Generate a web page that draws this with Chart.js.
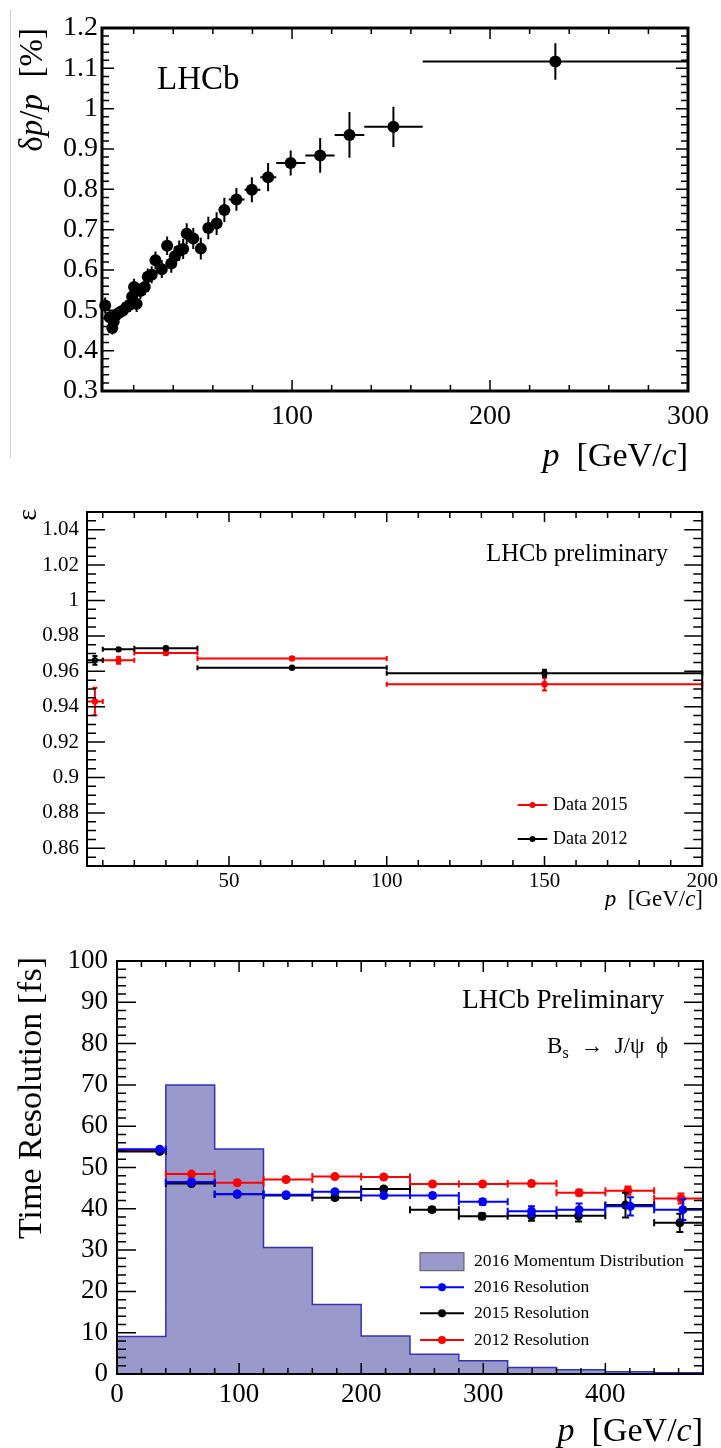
<!DOCTYPE html>
<html lang="en">
<head>
    <meta charset="UTF-8">
    <meta name="viewport" content="width=device-width, initial-scale=1.0">
    <title>LHCb momentum resolution, efficiency and time resolution</title>
    <script src="https://cdn.jsdelivr.net/npm/chart.js"></script>
    <style>
        body { margin: 0; background: #fff; }
        .page { position: relative; width: 721px; height: 1448px; overflow: hidden; }
        .panel { position: absolute; left: 0; }
        .edge { position: absolute; left: 10px; top: 10px; height: 448px; border-left: 1px solid #d0d0d0; }
    </style>
</head>
<body>
<div class="page">
    <div class="edge"></div>
    <canvas class="panel" id="resChart" width="721" height="480" style="top:0"></canvas>
    <canvas class="panel" id="effChart" width="721" height="420" style="top:490px"></canvas>
    <canvas class="panel" id="timeChart" width="721" height="543" style="top:905px"></canvas>
</div>

<script>
    const SERIF = '"Liberation Serif", "Times New Roman", serif';

    // ---- momentum resolution dp/p vs p ----
    const resP   = [5.6, 7.9, 9.2, 9.9, 11.0, 12.6, 14.4, 16.4, 18.1, 19.2, 20.2, 21.5, 23.4, 25.6, 27.1, 29.1, 31.0, 34.2, 36.9, 39.0,
                    40.8, 43.0, 45.0, 46.8, 50.1, 53.9, 57.7, 61.9, 65.8, 71.9, 79.7, 87.9, 99.3, 114.2, 129.0, 151.2, 233.0];
    const resLo  = [4.8, 7.1, 8.4, 9.1, 10.2, 11.8, 13.6, 15.6, 17.3, 18.4, 19.4, 20.7, 22.0, 24.1, 25.6, 27.6, 29.5, 32.7, 35.4, 37.5,
                    39.3, 41.5, 43.5, 45.3, 48.6, 52.4, 56.2, 59.9, 63.8, 68.0, 76.0, 84.0, 92.0, 106.7, 121.5, 136.5, 166.0];
    const resHi  = [6.4, 8.7, 10.0, 10.7, 11.8, 13.4, 15.2, 17.2, 18.9, 20.0, 21.0, 22.3, 24.8, 27.1, 28.6, 30.6, 32.5, 35.7, 38.4, 40.5,
                    42.3, 44.5, 46.5, 48.3, 51.6, 55.4, 59.2, 63.9, 67.8, 76.0, 84.0, 92.0, 106.7, 121.5, 136.5, 166.0, 300.0];
    const resVal = [0.512, 0.483, 0.456, 0.472, 0.488, 0.494, 0.499, 0.508, 0.514, 0.534, 0.558, 0.516, 0.548, 0.558, 0.583, 0.588, 0.624, 0.602, 0.660, 0.616,
                    0.634, 0.648, 0.652, 0.690, 0.678, 0.653, 0.704, 0.715, 0.749, 0.775, 0.799, 0.830, 0.865, 0.884, 0.935, 0.955, 1.117];
    const resErr = [0.020, 0.018, 0.016, 0.016, 0.016, 0.016, 0.016, 0.017, 0.018, 0.020, 0.020, 0.020, 0.020, 0.020, 0.021, 0.021, 0.022, 0.022, 0.023, 0.023,
                    0.024, 0.025, 0.025, 0.026, 0.026, 0.027, 0.028, 0.028, 0.030, 0.028, 0.031, 0.035, 0.031, 0.043, 0.057, 0.050, 0.045];
    const resXTicks  = [100, 200, 300];
    const resXLabels = ['100', '200', '300'];
    const resYTicks  = [0.3, 0.4, 0.5, 0.6, 0.7, 0.8, 0.9, 1.0, 1.1, 1.2];
    const resYLabels = ['0.3', '0.4', '0.5', '0.6', '0.7', '0.8', '0.9', '1', '1.1', '1.2'];

    // ---- efficiency vs p ----
    const effBinLo   = [5, 10, 20, 40, 100];
    const effBinHi   = [10, 20, 40, 100, 200];
    const effP       = [7.5, 15, 30, 70, 150];
    const eff2015    = [0.9429, 0.9662, 0.9703, 0.9673, 0.9527];
    const eff2015Err = [0.0078, 0.0020, 0.0010, 0.0008, 0.0036];
    const eff2012    = [0.9662, 0.9724, 0.9730, 0.9620, 0.9589];
    const eff2012Err = [0.0025, 0.0008, 0.0008, 0.0006, 0.0020];
    const effXTicks  = [50, 100, 150, 200];
    const effXLabels = ['50', '100', '150', '200'];
    const effYTicks  = [0.86, 0.88, 0.90, 0.92, 0.94, 0.96, 0.98, 1.00, 1.02, 1.04];
    const effYLabels = ['0.86', '0.88', '0.9', '0.92', '0.94', '0.96', '0.98', '1', '1.02', '1.04'];

    // ---- decay time resolution vs p ----
    const momEdges  = [0, 40, 80, 120, 160, 200, 240, 280, 320, 360, 400, 440, 480];
    const momDist   = [9.1, 70.0, 54.5, 30.6, 16.8, 9.2, 4.8, 3.2, 1.6, 1.0, 0.55, 0.3];
    const tBinLo    = [0, 40, 80, 120, 160, 200, 240, 280, 320, 360, 400, 440];
    const tBinHi    = [40, 80, 120, 160, 200, 240, 280, 320, 360, 400, 440, 480];
    const t2016P    = [35, 61, 98.5, 138.5, 178.5, 218.5, 258.5, 299.5, 339.5, 378.5, 420.5, 463.5];
    const t2016     = [54.4, 46.5, 43.6, 43.4, 44.1, 43.2, 43.2, 41.7, 39.4, 39.8, 40.6, 39.8];
    const t2016Err  = [0.5, 0.4, 0.4, 0.4, 0.5, 0.5, 0.6, 0.7, 1.2, 1.5, 2.2, 2.5];
    const t2015P    = [35, 61, 98.5, 138.5, 178.5, 218.5, 258, 299, 339.5, 378, 416.5, 461];
    const t2015     = [53.9, 46.1, 43.5, 43.2, 42.7, 44.8, 39.8, 38.2, 38.3, 38.3, 40.9, 36.6];
    const t2015Err  = [0.4, 0.4, 0.4, 0.4, 0.5, 0.5, 0.6, 0.7, 1.2, 1.4, 3.0, 2.2];
    const t2012P    = [35, 61, 98.5, 138.5, 178.5, 218.5, 258.5, 299.5, 339.5, 378.5, 418.5, 462];
    const t2012     = [54.2, 48.4, 46.3, 47.1, 47.8, 47.7, 46.0, 46.0, 46.1, 43.9, 44.4, 42.5];
    const t2012Err  = [0.4, 0.4, 0.4, 0.4, 0.4, 0.4, 0.5, 0.5, 0.6, 0.7, 1.0, 1.2];
    const tXTicks   = [0, 100, 200, 300, 400];
    const tXLabels  = ['0', '100', '200', '300', '400'];
    const tYTicks   = [0, 10, 20, 30, 40, 50, 60, 70, 80, 90, 100];
    const tYLabels  = ['0', '10', '20', '30', '40', '50', '60', '70', '80', '90', '100'];

    function pointsFrom(xs, ys, errs, lo, hi) {
        return xs.map((x, i) => ({
            x: x, y: ys[i],
            yMin: ys[i] - errs[i], yMax: ys[i] + errs[i],
            xMin: lo[i], xMax: hi[i]
        }));
    }

    // text made of runs: [text] plain, [text, 'i'] italic, [text, 'sub'] subscript
    function drawRuns(ctx, runs, x, y, size, align) {
        const fontOf = r => (r[1] === 'i' ? 'italic ' : '') + (r[1] === 'sub' ? size * 0.7 : size) + 'px ' + SERIF;
        let total = 0;
        runs.forEach(r => { ctx.font = fontOf(r); total += ctx.measureText(r[0]).width; });
        let cx = align === 'right' ? x - total : (align === 'center' ? x - total / 2 : x);
        ctx.textAlign = 'left';
        ctx.textBaseline = 'middle';
        runs.forEach(r => {
            ctx.font = fontOf(r);
            ctx.fillText(r[0], cx, y + (r[1] === 'sub' ? size * 0.3 : 0));
            cx += ctx.measureText(r[0]).width;
        });
    }

    function eachTick(scale, t, fn) {
        const first = Math.ceil(scale.min / t.step - 1e-6);
        const last = Math.floor(scale.max / t.step + 1e-6);
        for (let n = first; n <= last; n++) fn(scale.getPixelForValue(n * t.step), n % t.every === 0);
    }

    // ROOT style frame, ticks on all four sides pointing inwards
    const rootFrame = {
        id: 'rootFrame',
        afterDraw(chart, args, o) {
            const { ctx, chartArea: a, scales: { x, y } } = chart;
            ctx.save();
            ctx.strokeStyle = '#000';
            ctx.lineWidth = o.tickWidth;
            ctx.beginPath();
            eachTick(x, o.x, (px, major) => {
                const len = major ? o.x.major : o.x.minor;
                ctx.moveTo(px, a.bottom); ctx.lineTo(px, a.bottom - len);
                ctx.moveTo(px, a.top); ctx.lineTo(px, a.top + len);
            });
            eachTick(y, o.y, (py, major) => {
                const len = major ? o.y.major : o.y.minor;
                ctx.moveTo(a.left, py); ctx.lineTo(a.left + len, py);
                ctx.moveTo(a.right, py); ctx.lineTo(a.right - len, py);
            });
            ctx.stroke();
            ctx.lineWidth = o.frameWidth;
            ctx.strokeRect(a.left, a.top, a.right - a.left, a.bottom - a.top);
            ctx.restore();
        }
    };

    // horizontal bin-width bars and vertical error bars, drawn under each dataset's markers
    const errorBars = {
        id: 'errorBars',
        beforeDatasetDraw(chart, args) {
            const ds = chart.data.datasets[args.index];
            const eb = ds.errorBars;
            if (!eb) return;
            const { ctx, scales: { x, y } } = chart;
            ctx.save();
            ctx.strokeStyle = ds.backgroundColor;
            ctx.lineWidth = eb.width;
            ctx.beginPath();
            ds.data.forEach(d => {
                const px = x.getPixelForValue(d.x), py = y.getPixelForValue(d.y);
                const x0 = x.getPixelForValue(d.xMin), x1 = x.getPixelForValue(d.xMax);
                const y0 = y.getPixelForValue(d.yMin), y1 = y.getPixelForValue(d.yMax);
                ctx.moveTo(x0, py); ctx.lineTo(x1, py);
                ctx.moveTo(px, y0); ctx.lineTo(px, y1);
                if (eb.cap) {
                    ctx.moveTo(x0, py - eb.cap); ctx.lineTo(x0, py + eb.cap);
                    ctx.moveTo(x1, py - eb.cap); ctx.lineTo(x1, py + eb.cap);
                    ctx.moveTo(px - eb.cap, y0); ctx.lineTo(px + eb.cap, y0);
                    ctx.moveTo(px - eb.cap, y1); ctx.lineTo(px + eb.cap, y1);
                }
            });
            ctx.stroke();
            ctx.restore();
        }
    };

    // axis titles and labels on the pad
    const notes = {
        id: 'notes',
        afterDraw(chart, args, o) {
            const ctx = chart.ctx;
            (o.items || []).forEach(n => {
                ctx.save();
                ctx.fillStyle = '#000';
                ctx.translate(n.x, n.y);
                if (n.rotate) ctx.rotate(-Math.PI / 2);
                drawRuns(ctx, n.runs, 0, 0, n.size, n.align);
                ctx.restore();
            });
        }
    };

    // legend box: line + marker, or a filled swatch for the histogram
    const keyBox = {
        id: 'keyBox',
        afterDraw(chart, args, o) {
            if (!o.rows) return;
            const ctx = chart.ctx;
            o.rows.forEach(r => {
                const ds = chart.data.datasets[r.dataset];
                ctx.save();
                if (ds.type === 'line') {
                    ctx.fillStyle = ds.backgroundColor;
                    ctx.fillRect(o.x0, r.y - o.boxH / 2, o.x1 - o.x0, o.boxH);
                    ctx.strokeStyle = '#555';
                    ctx.lineWidth = 1;
                    ctx.strokeRect(o.x0, r.y - o.boxH / 2, o.x1 - o.x0, o.boxH);
                } else {
                    ctx.strokeStyle = ds.backgroundColor;
                    ctx.fillStyle = ds.backgroundColor;
                    ctx.lineWidth = 2;
                    ctx.beginPath();
                    ctx.moveTo(o.x0, r.y); ctx.lineTo(o.x1, r.y);
                    ctx.stroke();
                    ctx.beginPath();
                    ctx.arc((o.x0 + o.x1) / 2, r.y, o.dot, 0, Math.PI * 2);
                    ctx.fill();
                }
                ctx.fillStyle = '#000';
                drawRuns(ctx, [[ds.label]], o.textX, r.y, o.size, 'left');
                ctx.restore();
            });
        }
    };

    function makeChart(id, c) {
        const tickFont = { family: SERIF, size: c.tickSize };
        return new Chart(document.getElementById(id), {
            type: 'scatter',
            data: { datasets: c.datasets },
            options: {
                responsive: false,
                animation: false,
                events: [],
                layout: { padding: c.padding },
                scales: {
                    x: {
                        type: 'linear', min: c.xMin, max: c.xMax,
                        afterFit: s => { s.height = c.xHeight; },
                        afterBuildTicks: s => { s.ticks = c.xTicks.map(v => ({ value: v })); },
                        ticks: { callback: (v, i) => c.xLabels[i], font: tickFont, color: '#000', padding: c.xPad, maxRotation: 0, autoSkip: false },
                        grid: { display: false, drawTicks: false },
                        border: { display: false }
                    },
                    y: {
                        type: 'linear', min: c.yMin, max: c.yMax,
                        afterFit: s => { s.width = c.yWidth; },
                        afterBuildTicks: s => { s.ticks = c.yTicks.map(v => ({ value: v })); },
                        ticks: { callback: (v, i) => c.yLabels[i], font: tickFont, color: '#000', padding: c.yPad, autoSkip: false },
                        grid: { display: false, drawTicks: false },
                        border: { display: false }
                    }
                },
                plugins: {
                    legend: { display: false },
                    tooltip: { enabled: false },
                    rootFrame: c.frame,
                    notes: { items: c.notes },
                    keyBox: c.key || {}
                }
            },
            plugins: [errorBars, rootFrame, notes, keyBox]
        });
    }

    const xTitle = [['p', 'i'], ['  [GeV/'], ['c', 'i'], [']']];

    // top: momentum resolution
    makeChart('resChart', {
        padding: { left: 0, top: 28, right: 33, bottom: 0 },
        xMin: 4, xMax: 300, yMin: 0.3, yMax: 1.2,
        xHeight: 89, yWidth: 102, tickSize: 28, xPad: 9, yPad: 4,
        xTicks: resXTicks, xLabels: resXLabels, yTicks: resYTicks, yLabels: resYLabels,
        frame: { tickWidth: 1.5, frameWidth: 3,
                 x: { step: 20, every: 5, major: 11, minor: 6 },
                 y: { step: 0.02, every: 5, major: 12, minor: 7 } },
        notes: [
            { runs: [['δ'], ['p', 'i'], ['/'], ['p', 'i'], ['  [%]']], x: 33, y: 28, size: 33, align: 'right', rotate: true },
            { runs: xTitle, x: 688, y: 457, size: 34, align: 'right' },
            { runs: [['LHCb']], x: 157, y: 80, size: 33, align: 'left' }
        ],
        datasets: [{
            label: 'LHCb',
            data: pointsFrom(resP, resVal, resErr, resLo, resHi),
            backgroundColor: '#000', borderColor: '#000',
            pointRadius: 6, pointBorderWidth: 0, clip: false,
            errorBars: { width: 2, cap: 0 }
        }]
    });

    // middle: efficiency
    makeChart('effChart', {
        padding: { left: 0, top: 22, right: 18, bottom: 0 },
        xMin: 5, xMax: 200, yMin: 0.85, yMax: 1.05,
        xHeight: 44, yWidth: 87, tickSize: 21, xPad: 3, yPad: 8,
        xTicks: effXTicks, xLabels: effXLabels, yTicks: effYTicks, yLabels: effYLabels,
        frame: { tickWidth: 1.5, frameWidth: 2,
                 x: { step: 10, every: 5, major: 10, minor: 6 },
                 y: { step: 0.005, every: 4, major: 18, minor: 9 } },
        notes: [
            { runs: [['ε']], x: 29, y: 19, size: 28, align: 'right', rotate: true },
            { runs: [['LHCb preliminary']], x: 668, y: 65, size: 24.5, align: 'right' },
            { runs: xTitle, x: 703, y: 410, size: 23, align: 'right' }
        ],
        key: { x0: 517.7, x1: 547.3, textX: 553, size: 18, dot: 3,
               rows: [{ dataset: 1, y: 315 }, { dataset: 0, y: 349 }] },
        datasets: [{
            label: 'Data 2012',
            data: pointsFrom(effP, eff2012, eff2012Err, effBinLo, effBinHi),
            backgroundColor: '#000', borderColor: '#000',
            pointRadius: 3.2, pointBorderWidth: 0, clip: false, order: 0,
            errorBars: { width: 2, cap: 2.5 }
        }, {
            label: 'Data 2015',
            data: pointsFrom(effP, eff2015, eff2015Err, effBinLo, effBinHi),
            backgroundColor: '#ff0000', borderColor: '#ff0000',
            pointRadius: 3.2, pointBorderWidth: 0, clip: false, order: 1,
            errorBars: { width: 2, cap: 2.5 }
        }]
    });

    // bottom: decay time resolution with the momentum spectrum
    const resStyle = { pointRadius: 4.5, pointBorderWidth: 0, clip: false, errorBars: { width: 2, cap: 3.5 } };
    makeChart('timeChart', {
        padding: { left: 0, top: 56, right: 18, bottom: 0 },
        xMin: 0, xMax: 480, yMin: 0, yMax: 100,
        xHeight: 74, yWidth: 117, tickSize: 27, xPad: 5, yPad: 9,
        xTicks: tXTicks, xLabels: tXLabels, yTicks: tYTicks, yLabels: tYLabels,
        frame: { tickWidth: 1.5, frameWidth: 2,
                 x: { step: 20, every: 5, major: 11, minor: 6 },
                 y: { step: 2, every: 5, major: 19, minor: 9 } },
        notes: [
            { runs: [['Time Resolution [fs]']], x: 32, y: 52, size: 34, align: 'right', rotate: true },
            { runs: [['LHCb Preliminary']], x: 664, y: 96, size: 27, align: 'right' },
            { runs: [['B'], ['s', 'sub'], ['  →  J/ψ  ϕ']], x: 668, y: 141.7, size: 23, align: 'right' },
            { runs: xTitle, x: 703, y: 526.7, size: 34, align: 'right' }
        ],
        key: { x0: 420, x1: 464, textX: 474, size: 17.5, dot: 4, boxH: 18,
               rows: [{ dataset: 3, y: 356.7 }, { dataset: 0, y: 382.3 }, { dataset: 1, y: 408.3 }, { dataset: 2, y: 435 }] },
        datasets: [
            Object.assign({ label: '2016 Resolution', data: pointsFrom(t2016P, t2016, t2016Err, tBinLo, tBinHi),
                            backgroundColor: '#0000ff', borderColor: '#0000ff', order: 0 }, resStyle),
            Object.assign({ label: '2015 Resolution', data: pointsFrom(t2015P, t2015, t2015Err, tBinLo, tBinHi),
                            backgroundColor: '#000', borderColor: '#000', order: 1 }, resStyle),
            Object.assign({ label: '2012 Resolution', data: pointsFrom(t2012P, t2012, t2012Err, tBinLo, tBinHi),
                            backgroundColor: '#ff0000', borderColor: '#ff0000', order: 2 }, resStyle),
            {
                type: 'line',
                label: '2016 Momentum Distribution',
                data: momEdges.map((e, i) => ({ x: e, y: momDist[Math.min(i, momDist.length - 1)] })),
                stepped: true,
                fill: 'origin',
                backgroundColor: '#9999cc',
                borderColor: '#3333b3',
                borderWidth: 1.5,
                pointRadius: 0,
                order: 3
            }
        ]
    });
</script>
</body>
</html>
